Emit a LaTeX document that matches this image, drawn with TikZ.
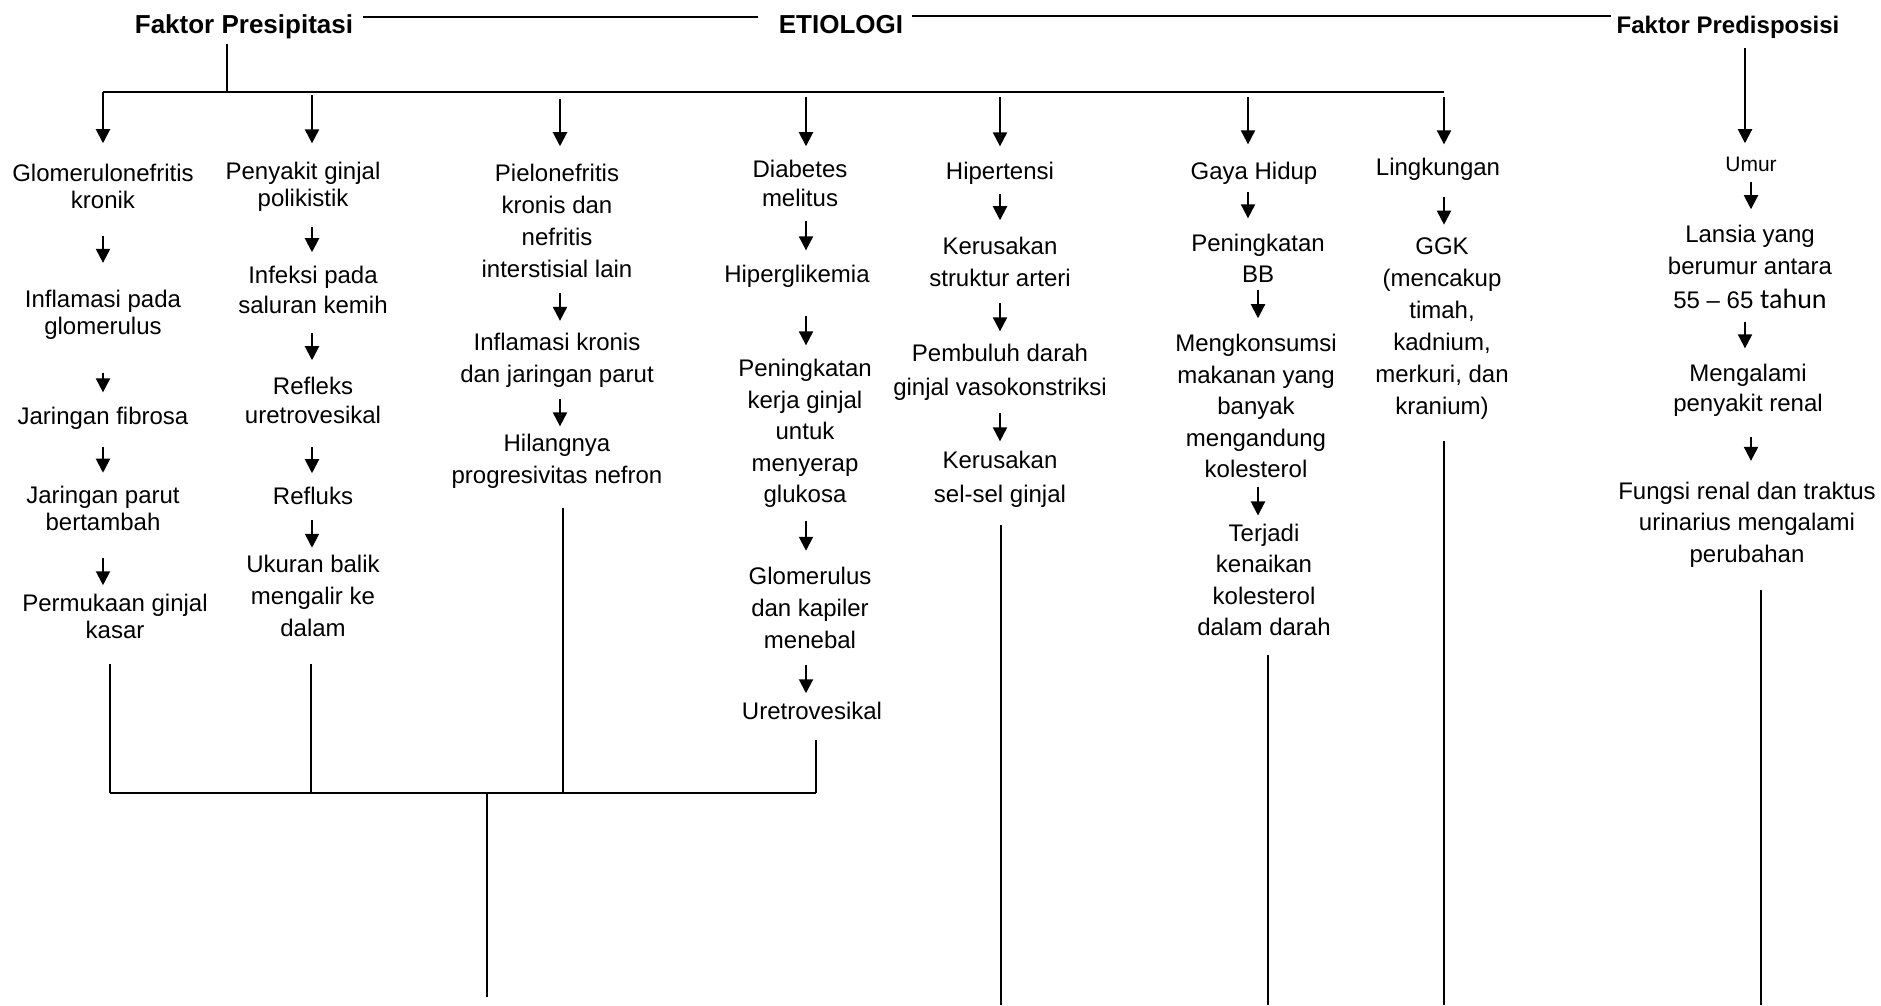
\documentclass[tikz,border=0pt]{standalone}
\usepackage{fontspec}
\setmainfont{Liberation Sans}
\newfontfamily\carlito{Carlito}
\usepackage{tikz}
\usetikzlibrary{arrows.meta, positioning}
\tikzstyle{judul} = [font=\fontsize{26}{30}\selectfont\bfseries, inner sep=0pt, anchor=base]
\tikzstyle{teks} = [align=center, inner sep=0pt, font=\fontsize{24}{32}\selectfont]
\tikzstyle{kecil} = [align=center, inner sep=0pt, font=\fontsize{21}{24}\selectfont]
\tikzstyle{garis} = [line width=1.5pt]
\tikzstyle{batang} = [line width=2.5pt]
\tikzstyle{panah} = [line width=2pt,->,>={Triangle[length=14pt,width=14pt]}]

\begin{document}
\begin{tikzpicture}[x=1pt, y=-1pt]
\useasboundingbox (0,0) rectangle (1881,1005);

% Judul
\node (presip) [judul] at (244,33) {Faktor Presipitasi};
\node (etio) [judul] at (841,33) {ETIOLOGI};
\node (predis) [judul, font=\fontsize{24}{28}\selectfont\bfseries] at (1728,33) {Faktor Predisposisi};

% Titik cabang
\coordinate (cab) at (227,92);
\coordinate (k1) at (103,92);
\coordinate (k2) at (312,92);
\coordinate (k3) at (560,92);
\coordinate (k4) at (806,92);
\coordinate (k5) at (1000,92);
\coordinate (k6) at (1248,92);
\coordinate (k7) at (1444,92);
\coordinate (k8) at (1745,92);

% Kolom 1 - Glomerulonefritis
\node (g1) [teks, font=\fontsize{24}{27}\selectfont] at (103,186.75) {Glomerulonefritis\\kronik};
\node (g2) [teks, font=\fontsize{24}{27}\selectfont] at (103,314.75) {Inflamasi pada\\glomerulus};
\node (g3) [teks] at (103,418.75) {Jaringan fibrosa};
\node (g4) [teks, font=\fontsize{24}{27}\selectfont] at (103,508.25) {Jaringan parut\\bertambah};
\node (g5) [teks, font=\fontsize{24}{27}\selectfont] at (115,616.75) {Permukaan ginjal\\kasar};

% Kolom 2 - Penyakit ginjal polikistik
\node (p1) [teks, font=\fontsize{24}{27}\selectfont] at (303,187.25) {Penyakit ginjal\\polikistik};
\node (p2) [teks, font=\fontsize{24}{30}\selectfont] at (313,290.25) {Infeksi pada\\saluran kemih};
\node (p3) [teks, font=\fontsize{24}{29}\selectfont] at (313,400.75) {Refleks\\uretrovesikal};
\node (p4) [teks] at (313,496.25) {Refluks};
\node (p5) [teks] at (313,595.75) {Ukuran balik\\mengalir ke\\dalam};

% Kolom 3 - Pielonefritis
\node (r1) [teks] at (557,221.25) {Pielonefritis\\kronis dan\\nefritis\\interstisial lain};
\node (r2) [teks] at (557,360.25) {Inflamasi kronis\\dan jaringan parut};
\node (r3) [teks] at (557,461.75) {Hilangnya\\progresivitas nefron};

% Kolom 4 - Diabetes melitus
\node (d1) [teks, font=\fontsize{24}{29}\selectfont] at (800,183.75) {Diabetes\\melitus};
\node (d2) [teks] at (797,276.75) {Hiperglikemia};
\node (d3) [teks, font=\fontsize{24}{31.5}\selectfont] at (805,433.75) {Peningkatan\\kerja ginjal\\untuk\\menyerap\\glukosa};
\node (d4) [teks] at (810,607.75) {Glomerulus\\dan kapiler\\menebal};
\node (d5) [teks] at (812,711.25) {Uretrovesikal};

% Kolom 5 - Hipertensi
\node (h1) [teks] at (1000,173.75) {Hipertensi};
\node (h2) [teks] at (1000,262.25) {Kerusakan\\struktur arteri};
\node (h3) [teks, font=\fontsize{24}{34}\selectfont] at (1000,372.75) {Pembuluh darah\\ginjal vasokonstriksi};
\node (h4) [teks, font=\fontsize{24}{34}\selectfont] at (1000,479.75) {Kerusakan\\sel-sel ginjal};

% Kolom 6 - Gaya hidup
\node (y1) [teks] at (1254,173.75) {Gaya Hidup};
\node (y2) [teks, font=\fontsize{24}{31}\selectfont] at (1258,258.75) {Peningkatan\\BB};
\node (y3) [teks, font=\fontsize{24}{31.5}\selectfont] at (1256,406.25) {Mengkonsumsi\\makanan yang\\banyak\\mengandung\\kolesterol};
\node (y4) [teks, font=\fontsize{24}{31.5}\selectfont] at (1264,579.75) {Terjadi\\kenaikan\\kolesterol\\dalam darah};

% Kolom 7 - Lingkungan
\node (l1) [teks] at (1438,169.75) {Lingkungan};
\node (l2) [teks] at (1442,328.75) {GGK\\(mencakup\\timah,\\kadnium,\\merkuri, dan\\kranium)};

% Kolom 8 - Umur
\node (u1) [kecil] at (1751,164.75) {Umur};
\node (u2) [teks] at (1750,267.25) {Lansia yang\\berumur antara\\[2pt]55 -- 65 {\carlito\fontsize{28}{32}\selectfont tahun}};
\node (u3) [teks, font=\fontsize{24}{30}\selectfont] at (1748,390.75) {Mengalami\\penyakit renal};
\node (u4) [teks, font=\fontsize{24}{31.5}\selectfont] at (1747,524.75) {Fungsi renal dan traktus\\urinarius mengalami\\perubahan};

% Titik bawah
\coordinate (t1) at (110,793);
\coordinate (t2) at (311,793);
\coordinate (t3) at (563,793);
\coordinate (t4) at (816,793);
\coordinate (t0) at (487,793);
\coordinate (b0) at (487,997);
\coordinate (e5) at (1001,1005);
\coordinate (e6) at (1268,1005);
\coordinate (e7) at (1444,1005);
\coordinate (e8) at (1761,1005);

% Garis judul
\draw [garis] ([xshift=10pt,yshift=16pt]presip.base east) -- ([xshift=-21pt,yshift=16pt]etio.base west);
\draw [garis] ([xshift=9pt,yshift=17pt]etio.base east) -- ([xshift=-5pt,yshift=17pt]predis.base west);
\draw [garis, shorten <=5pt] (presip.south -| cab) -- (cab);
\draw [batang] (k1) -- (k7);

% Panah utama
\draw [panah, shorten >=21pt] (k1) -- (g1.north -| k1);
\draw [panah, shorten <=3pt, shorten >=19pt] (k2) -- (p1.north -| k2);
\draw [panah, shorten <=7pt, shorten >=18pt] (k3) -- (r1.north -| k3);
\draw [panah, shorten <=5pt, shorten >=14pt] (k4) -- (d1.north -| k4);
\draw [panah, shorten <=5pt, shorten >=16pt] (k5) -- (h1.north -| k5);
\draw [panah, shorten <=5pt, shorten >=18pt] (k6) -- (y1.north -| k6);
\draw [panah, shorten <=5pt, shorten >=14pt] (k7) -- (l1.north -| k7);
\draw [panah, shorten <=10pt, shorten >=14pt] (predis.south -| k8) -- (u1.north -| k8);

% Panah kolom
\draw [panah, shorten <=27pt, shorten >=27pt] (g1.south -| k1) -- (g2.north -| k1);
\draw [panah, shorten <=33pt, shorten >=15pt] (g2.south -| k1) -- (g3.north -| k1);
\draw [panah, shorten <=17pt, shorten >=13pt] (g3.south -| k1) -- (g4.north -| k1);
\draw [panah, shorten <=27pt, shorten >=9pt] (g4.south -| k1) -- (g5.north -| k1);

\draw [panah, shorten <=15pt, shorten >=14pt] (p1.south -| k2) -- (p2.north -| k2);
\draw [panah, shorten <=19pt, shorten >=17pt] (p2.south -| k2) -- (p3.north -| k2);
\draw [panah, shorten <=23pt, shorten >=14pt] (p3.south -| k2) -- (p4.north -| k2);
\draw [panah, shorten <=15pt, shorten >=7pt] (p4.south -| k2) -- (p5.north -| k2);

\draw [panah, shorten <=15pt, shorten >=12pt] (r1.south -| k3) -- (r2.north -| k3);
\draw [panah, shorten <=11pt, shorten >=8pt] (r2.south -| k3) -- (r3.north -| k3);

\draw [panah, shorten <=14pt, shorten >=15pt] (d1.south -| k4) -- (d2.north -| k4);
\draw [panah, shorten <=28pt, shorten >=14pt] (d2.south -| k4) -- (d3.north -| k4);
\draw [panah, shorten <=13pt, shorten >=16pt] (d3.south -| k4) -- (d4.north -| k4);
\draw [panah, shorten <=16pt, shorten >=9pt] (d4.south -| k4) -- (d5.north -| k4);

\draw [panah, shorten <=9pt, shorten >=17pt] (h1.south -| k5) -- (h2.north -| k5);
\draw [panah, shorten <=16pt, shorten >=13pt] (h2.south -| k5) -- (h3.north -| k5);
\draw [panah, shorten <=12pt, shorten >=10pt] (h3.south -| k5) -- (h4.north -| k5);

\draw [panah, shorten <=7pt, shorten >=16pt] (y1.south -| k6) -- (y2.north -| k6);
\draw [panah, shorten <=7pt, shorten >=16pt] (y2.south -| y2) -- (y3.north -| y2);
\draw [panah, shorten <=9pt, shorten >=8pt] (y3.south -| y2) -- (y4.north -| y2);

\draw [panah, shorten <=16pt, shorten >=13pt] (l1.south -| k7) -- (l2.north -| k7);

\draw [panah, shorten <=10pt, shorten >=16pt] (u1.south -| u1) -- (u2.north -| u1);
\draw [panah, shorten <=13pt, shorten >=16pt] (u2.south -| k8) -- (u3.north -| k8);
\draw [panah, shorten <=20pt, shorten >=21pt] (u3.south -| u1) -- (u4.north -| u1);

% Garis bawah
\draw [garis, shorten <=25pt] (g5.south -| t1) -- (t1);
\draw [garis, shorten <=27pt] (p5.south -| t2) -- (t2);
\draw [garis, shorten <=19pt] (r3.south -| t3) -- (t3);
\draw [garis, shorten <=20pt] (d5.south -| t4) -- (t4);
\draw [batang] (t1) -- (t4);
\draw [garis] (t0) -- (b0);
\draw [garis, shorten <=17pt] (h4.south -| e5) -- (e5);
\draw [garis, shorten <=19pt] (y4.south -| e6) -- (e6);
\draw [garis, shorten <=21pt] (l2.south -| e7) -- (e7);
\draw [garis, shorten <=22pt] (u4.south -| e8) -- (e8);

\end{tikzpicture}
\end{document}
